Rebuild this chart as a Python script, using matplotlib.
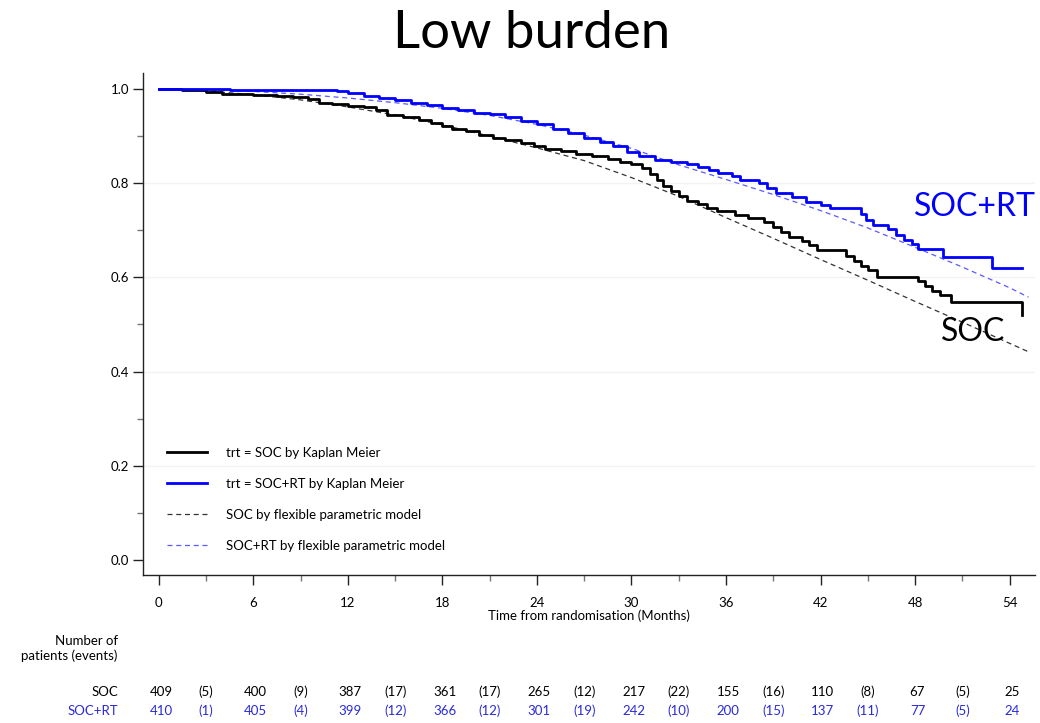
import matplotlib
matplotlib.use("Agg")
import matplotlib.pyplot as plt
from matplotlib.lines import Line2D
from matplotlib.ticker import MultipleLocator
import matplotlib.transforms as mtransforms

# Kaplan-Meier step estimates (months, survival after the step)
soc_km_t = [0, 1.5, 3.0, 4.0, 6.0, 7.5, 8.5, 9.5, 10.2, 11.0, 12.0, 13.0, 13.8, 14.5,
            15.5, 16.5, 17.3, 18.0, 18.6, 19.5, 20.3, 21.2, 22.0, 23.0, 23.8, 24.5,
            25.5, 26.5, 27.5, 28.5, 29.3, 30.0, 30.7, 31.2, 31.6, 32.0, 32.5, 33.0,
            33.5, 34.2, 34.8, 35.4, 36.6, 37.4, 38.4, 39.0, 39.5, 40.0, 40.8, 41.3,
            41.8, 43.6, 44.1, 44.6, 45.0, 45.6, 48.2, 48.6, 49.1, 49.6, 50.3, 54.8]
soc_km_s = [1.0, 0.997, 0.993, 0.990, 0.988, 0.986, 0.983, 0.978, 0.970, 0.968, 0.965,
            0.962, 0.955, 0.945, 0.940, 0.935, 0.928, 0.922, 0.915, 0.910, 0.903, 0.897,
            0.892, 0.886, 0.879, 0.873, 0.868, 0.862, 0.857, 0.851, 0.846, 0.840, 0.832,
            0.820, 0.806, 0.795, 0.784, 0.772, 0.762, 0.755, 0.748, 0.740, 0.733, 0.726,
            0.718, 0.708, 0.697, 0.686, 0.678, 0.668, 0.658, 0.646, 0.635, 0.624, 0.615,
            0.601, 0.592, 0.582, 0.572, 0.562, 0.548, 0.520]

rt_km_t = [0, 4.5, 11.3, 12.0, 13.0, 14.0, 15.0, 16.0, 17.0, 18.0, 19.0, 20.0, 21.0,
           22.0, 23.0, 24.0, 25.0, 26.0, 27.0, 28.0, 28.8, 29.7, 30.5, 31.5, 32.5, 33.5,
           34.2, 34.9, 35.5, 36.4, 36.9, 38.1, 38.6, 39.2, 40.2, 41.1, 42.0, 42.6, 44.6,
           44.9, 45.3, 46.3, 46.8, 47.3, 47.8, 48.2, 49.8, 52.9, 54.8]
rt_km_s = [1.0, 0.997, 0.995, 0.991, 0.986, 0.981, 0.976, 0.971, 0.966, 0.960, 0.955,
           0.950, 0.946, 0.940, 0.932, 0.925, 0.916, 0.906, 0.897, 0.887, 0.878, 0.866,
           0.858, 0.850, 0.845, 0.840, 0.834, 0.828, 0.822, 0.815, 0.807, 0.800, 0.790,
           0.779, 0.770, 0.761, 0.753, 0.748, 0.735, 0.722, 0.711, 0.702, 0.690, 0.680,
           0.670, 0.660, 0.644, 0.620, 0.620]

# Flexible parametric model fits
model_t = [0, 3, 6, 9, 12, 15, 18, 21, 24, 27, 30, 33, 36, 39, 42, 45, 48, 51, 54, 55.2]
soc_model = [1.0, 0.996, 0.988, 0.977, 0.962, 0.945, 0.924, 0.900, 0.875, 0.848, 0.812,
             0.772, 0.727, 0.683, 0.638, 0.594, 0.549, 0.505, 0.460, 0.442]
rt_model = [1.0, 0.999, 0.995, 0.989, 0.981, 0.971, 0.959, 0.944, 0.925, 0.902, 0.874,
            0.839, 0.808, 0.776, 0.742, 0.705, 0.664, 0.622, 0.578, 0.558]

# Numbers at risk (every 6 months) and events (in the 3-month midpoints)
risk_months = [0, 6, 12, 18, 24, 30, 36, 42, 48, 54]
event_months = [3, 9, 15, 21, 27, 33, 39, 45, 51]
soc_risk = [409, 400, 387, 361, 265, 217, 155, 110, 67, 25]
soc_events = [5, 9, 17, 17, 12, 22, 16, 8, 5]
rt_risk = [410, 405, 399, 366, 301, 242, 200, 137, 77, 24]
rt_events = [1, 4, 12, 12, 19, 10, 15, 11, 5]

x_ticks = [0, 6, 12, 18, 24, 30, 36, 42, 48, 54]
y_ticks = [0.0, 0.2, 0.4, 0.6, 0.8, 1.0]

BLUE = "#0000ff"
RISK_BLUE = "#2a2ad8"
FONT = "Lato"
SMALL = 9.5

fig = plt.figure(figsize=(10.4, 7.23), dpi=100)
ax = fig.add_axes([0.1375, 0.2047, 0.8575, 0.6943])

ax.set_xlim(-1.0, 55.6)
ax.set_ylim(-0.032, 1.034)

for y in y_ticks[1:-1]:
    ax.axhline(y, color="#f3f3f3", lw=1.0, zorder=0)

ax.plot(model_t, soc_model, color="#333333", lw=0.9, ls=(0, (4, 3)), zorder=2)
ax.plot(model_t, rt_model, color="#5a5aff", lw=0.9, ls=(0, (4, 3)), zorder=2)
ax.plot(soc_km_t, soc_km_s, color="black", lw=2.0, drawstyle="steps-post", zorder=3)
ax.plot(rt_km_t, rt_km_s, color=BLUE, lw=2.0, drawstyle="steps-post", zorder=3)

for s in ["top", "right"]:
    ax.spines[s].set_visible(False)
for s in ["left", "bottom"]:
    ax.spines[s].set_linewidth(1.0)
    ax.spines[s].set_color("#222222")

ax.set_xticks(x_ticks)
ax.set_yticks(y_ticks)
ax.set_yticklabels([f"{v:.1f}" for v in y_ticks])
ax.xaxis.set_minor_locator(MultipleLocator(3))
ax.yaxis.set_minor_locator(MultipleLocator(0.1))
ax.tick_params(axis="both", which="major", length=7, width=1.0, color="#222222",
               labelsize=SMALL)
ax.tick_params(axis="x", which="major", pad=9)
ax.tick_params(axis="y", which="major", pad=3)
ax.tick_params(axis="both", which="minor", length=4, width=1.0, color="#777777")
for lab in ax.get_xticklabels() + ax.get_yticklabels():
    lab.set_fontfamily(FONT)

ax.set_xlabel("Time from randomisation (Months)", fontsize=SMALL, fontfamily=FONT, labelpad=0)

fig.text(0.511, 0.953, "Low burden", ha="center", va="center", fontsize=38, fontfamily=FONT)

ax.text(55.65, 0.75, "SOC+RT", color=BLUE, fontsize=23, fontfamily=FONT, ha="right", va="center")
ax.text(53.7, 0.485, "SOC", color="black", fontsize=23, fontfamily=FONT, ha="right", va="center")

handles = [
    Line2D([], [], color="black", lw=2.0),
    Line2D([], [], color=BLUE, lw=2.0),
    Line2D([], [], color="#333333", lw=0.9, ls=(0, (4, 3))),
    Line2D([], [], color="#5a5aff", lw=0.9, ls=(0, (4, 3))),
]
labels = ["trt = SOC by Kaplan Meier", "trt = SOC+RT by Kaplan Meier",
          "SOC by flexible parametric model", "SOC+RT by flexible parametric model"]
ax.legend(handles, labels, loc="lower left", bbox_to_anchor=(0.018, 0.03), frameon=False,
          prop={"family": FONT, "size": SMALL}, handlelength=3.0, labelspacing=1.45,
          handletextpad=1.5, borderaxespad=0.2)

# Number-at-risk table below the axis
trans = mtransforms.blended_transform_factory(ax.transData, ax.transAxes)
lab_x = -2.6
ax.text(lab_x, -0.131, "Number of", transform=trans, ha="right", va="center",
        fontsize=SMALL, fontfamily=FONT, clip_on=False)
ax.text(lab_x, -0.161, "patients (events)", transform=trans, ha="right", va="center",
        fontsize=SMALL, fontfamily=FONT, clip_on=False)

rows = [(-0.233, "SOC", "black", soc_risk, soc_events),
        (-0.271, "SOC+RT", RISK_BLUE, rt_risk, rt_events)]
for yy, name, col, risk, ev in rows:
    ax.text(lab_x, yy, name, transform=trans, ha="right", va="center", color=col,
            fontsize=SMALL, fontfamily=FONT, clip_on=False)
    for m, n in zip(risk_months, risk):
        ax.text(m + 0.15, yy, str(n), transform=trans, ha="center", va="center", color=col,
                fontsize=SMALL, fontfamily=FONT, clip_on=False)
    for m, n in zip(event_months, ev):
        ax.text(m, yy, f"({n})", transform=trans, ha="center", va="center", color=col,
                fontsize=SMALL, fontfamily=FONT, clip_on=False)

fig.savefig("out.png", dpi=100, facecolor="white")
